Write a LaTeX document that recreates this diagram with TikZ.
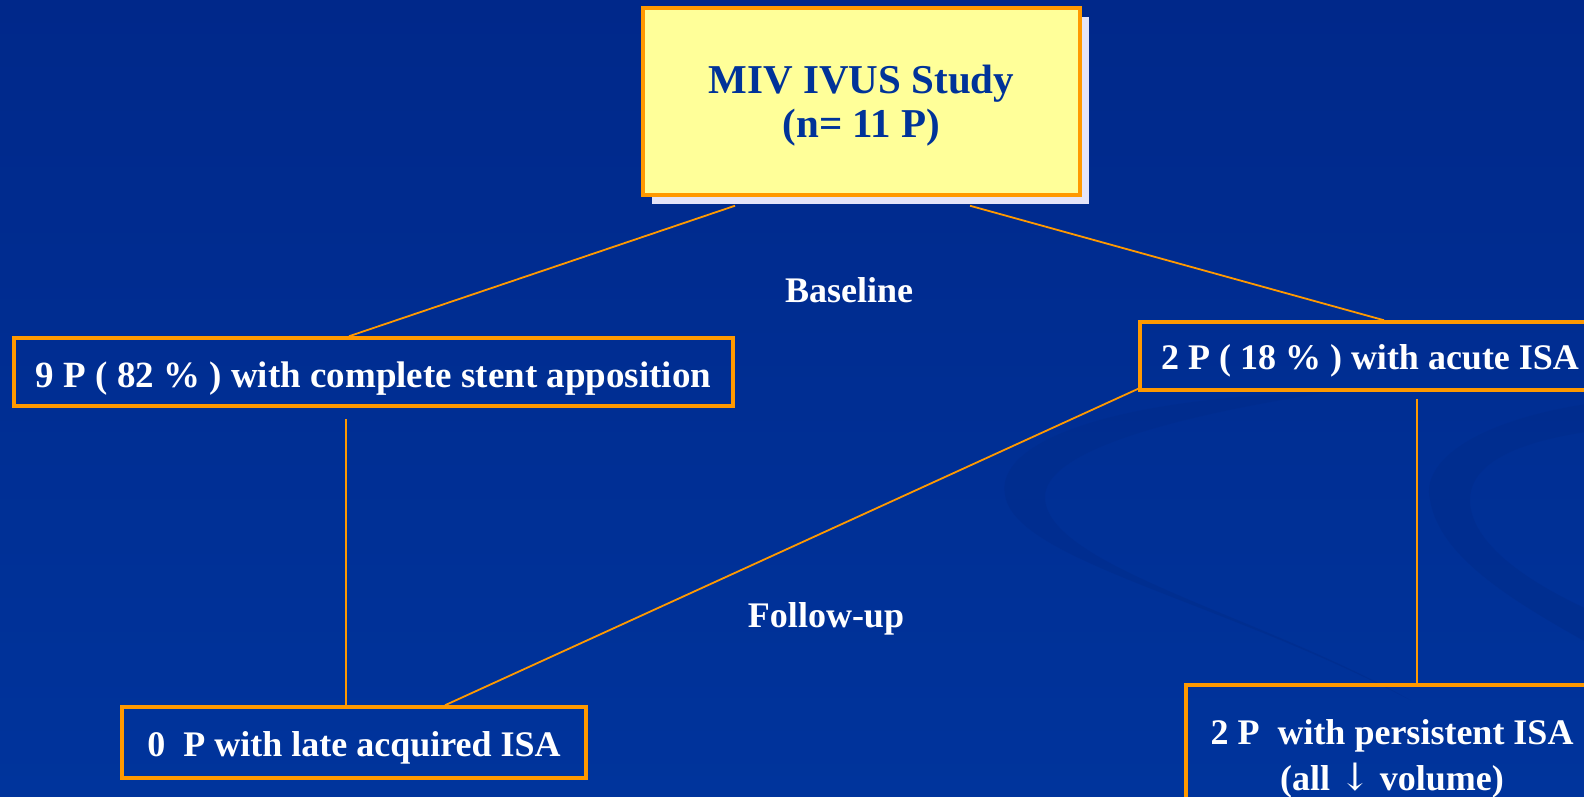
\documentclass[tikz,border=0pt]{standalone}
\usepackage{fontspec}
\setmainfont{Liberation Serif}
\newfontfamily\arrowfont{DejaVu Serif}
\usetikzlibrary{shadows}
\definecolor{bgtop}{RGB}{0,40,138}
\definecolor{bgbot}{RGB}{0,52,156}
\definecolor{swirl}{RGB}{0,44,140}
\definecolor{boxorange}{RGB}{255,153,0}
\definecolor{titleyellow}{RGB}{255,255,153}
\definecolor{titleblue}{RGB}{0,51,153}
\definecolor{shadowlav}{RGB}{228,228,248}
\tikzset{
  flowbox/.style={draw=boxorange, line width=3.5pt, fill=none, text=white,
    font=\bfseries\fontsize{36}{46}\selectfont, align=center, inner sep=0pt},
  onebox/.style={flowbox, text height=27pt, text depth=0pt},
  titlebox/.style={draw=boxorange, line width=3.5pt, fill=titleyellow, text=titleblue,
    font=\bfseries\fontsize{41}{44}\selectfont, align=center, inner sep=0pt,
    drop shadow={shadow xshift=9pt, shadow yshift=-9pt, fill=shadowlav, opacity=1}},
  phase/.style={text=white, font=\bfseries\fontsize{36}{40}\selectfont, inner sep=0pt},
  link/.style={draw=boxorange, line width=1.8pt}
}
\begin{document}
\begin{tikzpicture}[x=1pt,y=-1pt]
\useasboundingbox (0,0) rectangle (1584,797);
\shade[top color=bgtop, bottom color=bgbot] (0,0) rectangle (1584,797);
\begin{scope}
\clip (0,0) rectangle (1584,797);
% faint background swirls
\fill[swirl, opacity=0.6] (1330,392) .. controls (1100,398) and (995,445) .. (1005,495)
  .. controls (1015,560) and (1220,600) .. (1410,700)
  .. controls (1260,615) and (1045,565) .. (1045,497)
  .. controls (1045,455) and (1150,420) .. (1330,392) -- cycle;
\fill[swirl, opacity=0.6] (1600,402) .. controls (1480,418) and (1420,460) .. (1430,500)
  .. controls (1440,560) and (1520,605) .. (1600,650) -- (1600,615)
  .. controls (1520,580) and (1470,540) .. (1470,500)
  .. controls (1470,462) and (1520,440) .. (1600,430) -- cycle;

\node[titlebox, minimum width=437pt, minimum height=187pt] (top) at (861.5,101.5)
  {\rule{0pt}{36pt}MIV IVUS Study\\(n= 11 P)};

\node[onebox, text height=30pt, minimum width=719pt, minimum height=68pt,
  font=\bfseries\fontsize{37}{46}\selectfont] (A) at (373.5,372)
  {9 P ( 82 \% ) with complete stent apposition};
\node[onebox, text height=27pt, minimum width=460pt, minimum height=68pt] (B) at (1370,356)
  {2 P ( 18 \% ) with acute ISA};
\node[onebox, minimum width=464pt, minimum height=71pt] (C) at (354,742.5)
  {0\ \ P with late acquired ISA};
\node[flowbox, minimum width=412pt, minimum height=148pt] (D) at (1392,759)
  {2 P\ \ with persistent ISA\\(all {\arrowfont\mdseries\fontsize{38}{38}\selectfont ↓} volume)};

\node[phase] (base) at (849,290) {Baseline};
\node[phase] (fu) at (826,619) {Follow-up};

\draw[link] ([xshift=-126.5pt,yshift=-9pt]top.south) -- ([xshift=-24.5pt]A.north);
\draw[link] ([xshift=108.5pt,yshift=-9pt]top.south) -- ([xshift=14pt]B.north);
\draw[link] ([xshift=-27.5pt,yshift=-11pt]A.south) -- ([xshift=-8pt]C.north);
\draw[link] ([yshift=3pt]B.south west) -- ([xshift=91pt]C.north);
\draw[link] ([xshift=47pt,yshift=-7pt]B.south) -- ([xshift=25pt]D.north);
\end{scope}
\end{tikzpicture}
\end{document}
